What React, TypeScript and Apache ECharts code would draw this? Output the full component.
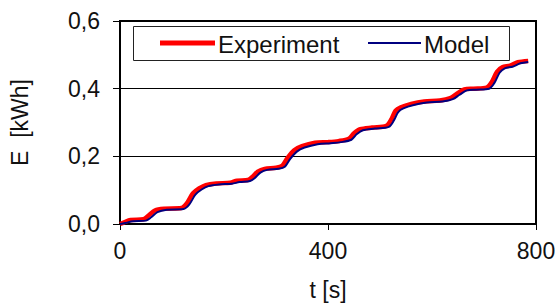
import React, { useEffect, useRef } from "react";
import * as echarts from "echarts";

const seriesNames = ["Experiment", "Model"];
const expTime = [0, 8, 20, 45, 55, 67, 85, 118, 128, 140, 152, 165, 185, 212, 225, 246, 255, 265, 278, 300, 312, 322, 335, 350, 375, 400, 420, 440, 450, 462, 485, 512, 522, 530, 540, 560, 585, 615, 635, 648, 662, 680, 705, 715, 725, 735, 750, 765, 785];
const expEnergy = [0, 0.005, 0.012, 0.014, 0.025, 0.04, 0.045, 0.047, 0.06, 0.09, 0.105, 0.115, 0.12, 0.122, 0.128, 0.13, 0.14, 0.155, 0.163, 0.166, 0.172, 0.195, 0.218, 0.23, 0.24, 0.242, 0.245, 0.252, 0.268, 0.28, 0.285, 0.29, 0.31, 0.335, 0.345, 0.355, 0.362, 0.365, 0.372, 0.385, 0.398, 0.4, 0.403, 0.42, 0.45, 0.463, 0.468, 0.478, 0.482];
const modelTime = [0, 10, 25, 50, 60, 72, 90, 122, 133, 145, 157, 170, 190, 215, 230, 250, 260, 270, 283, 305, 317, 327, 340, 355, 380, 405, 425, 445, 455, 467, 490, 517, 527, 535, 545, 565, 590, 620, 640, 653, 667, 685, 710, 720, 730, 740, 755, 770, 785];
const modelEnergy = [0, 0.003, 0.008, 0.01, 0.02, 0.035, 0.042, 0.044, 0.057, 0.087, 0.102, 0.112, 0.117, 0.119, 0.124, 0.127, 0.137, 0.152, 0.16, 0.163, 0.169, 0.192, 0.214, 0.226, 0.236, 0.239, 0.242, 0.249, 0.265, 0.277, 0.282, 0.287, 0.307, 0.331, 0.342, 0.352, 0.359, 0.362, 0.369, 0.382, 0.395, 0.397, 0.4, 0.417, 0.447, 0.46, 0.465, 0.475, 0.479];
const xAxisTitle = "t [s]";
const yAxisTitle = "E  [kWh]";

const FONT = "'Liberation Sans', Arial, sans-serif";
const RED = "#ff0000";
const NAVY = "#000080";

export default function App() {
  const ref = useRef<HTMLDivElement>(null);
  useEffect(() => {
    if (!ref.current) return;
    const chart = echarts.init(ref.current, undefined, { renderer: "svg" });
    const expData = expTime.map((t, i) => [t, expEnergy[i]]);
    const modelData = modelTime.map((t, i) => [t, modelEnergy[i]]);
    const legendText = { fontSize: 24, fill: "#111", fontFamily: FONT, verticalAlign: "middle", align: "left" };
    chart.setOption({
      animation: false,
      backgroundColor: "#fff",
      textStyle: { fontFamily: FONT },
      grid: {
        left: 120,
        right: 19,
        top: 21,
        bottom: 82,
        outerBoundsMode: "none",
        containLabel: false,
        show: true,
        borderColor: "#000",
        borderWidth: 2,
        backgroundColor: "transparent",
      },
      graphic: [
        {
          type: "group",
          z: 10,
          children: [
            {
              type: "rect",
              shape: { x: 133.5, y: 26.5, width: 376, height: 34 },
              style: { fill: "#fff", stroke: "#222", lineWidth: 1 },
            },
            {
              type: "line",
              shape: { x1: 160, y1: 43, x2: 215, y2: 43 },
              style: { stroke: RED, lineWidth: 5 },
            },
            {
              type: "text",
              x: 218,
              y: 44,
              style: { ...legendText, text: seriesNames[0] },
            },
            {
              type: "line",
              shape: { x1: 368, y1: 43, x2: 421, y2: 43 },
              style: { stroke: NAVY, lineWidth: 2 },
            },
            {
              type: "text",
              x: 424,
              y: 44,
              style: { ...legendText, text: seriesNames[1] },
            },
          ],
        },
      ],
      xAxis: {
        type: "value",
        min: 0,
        max: 800,
        interval: 400,
        name: xAxisTitle,
        nameLocation: "middle",
        nameGap: 54,
        nameTextStyle: { fontSize: 23, color: "#111", fontFamily: FONT },
        axisLine: { show: true, onZero: false, lineStyle: { color: "#000", width: 2 } },
        axisTick: { show: true, length: 6, lineStyle: { color: "#000", width: 1 } },
        axisLabel: { fontSize: 23, color: "#111", margin: 15, fontFamily: FONT },
        splitLine: { show: false },
      },
      yAxis: {
        type: "value",
        min: 0,
        max: 0.6,
        interval: 0.2,
        name: yAxisTitle,
        nameLocation: "middle",
        nameGap: 89,
        nameTextStyle: { fontSize: 23, color: "#111", fontFamily: FONT },
        axisLine: { show: true, lineStyle: { color: "#000", width: 2 } },
        axisTick: { show: true, length: 7, lineStyle: { color: "#000", width: 1 } },
        axisLabel: {
          fontSize: 23,
          color: "#111",
          margin: 20,
          fontFamily: FONT,
          formatter: (v: number) => v.toFixed(1).replace(".", ","),
        },
        splitLine: { show: true, lineStyle: { color: "#000", width: 1 } },
      },
      series: [
        {
          name: seriesNames[0],
          type: "line",
          data: expData,
          symbol: "none",
          smooth: 0.3,
          lineStyle: { color: RED, width: 4.5 },
          itemStyle: { color: RED },
          z: 3,
        },
        {
          name: seriesNames[1],
          type: "line",
          data: modelData,
          symbol: "none",
          smooth: 0.3,
          lineStyle: { color: NAVY, width: 2 },
          itemStyle: { color: NAVY },
          z: 4,
        },
      ],
    });
    return () => chart.dispose();
  }, []);
  return <div ref={ref} style={{ width: 555, height: 306, position: "absolute", left: 0, top: 0 }} />;
}
